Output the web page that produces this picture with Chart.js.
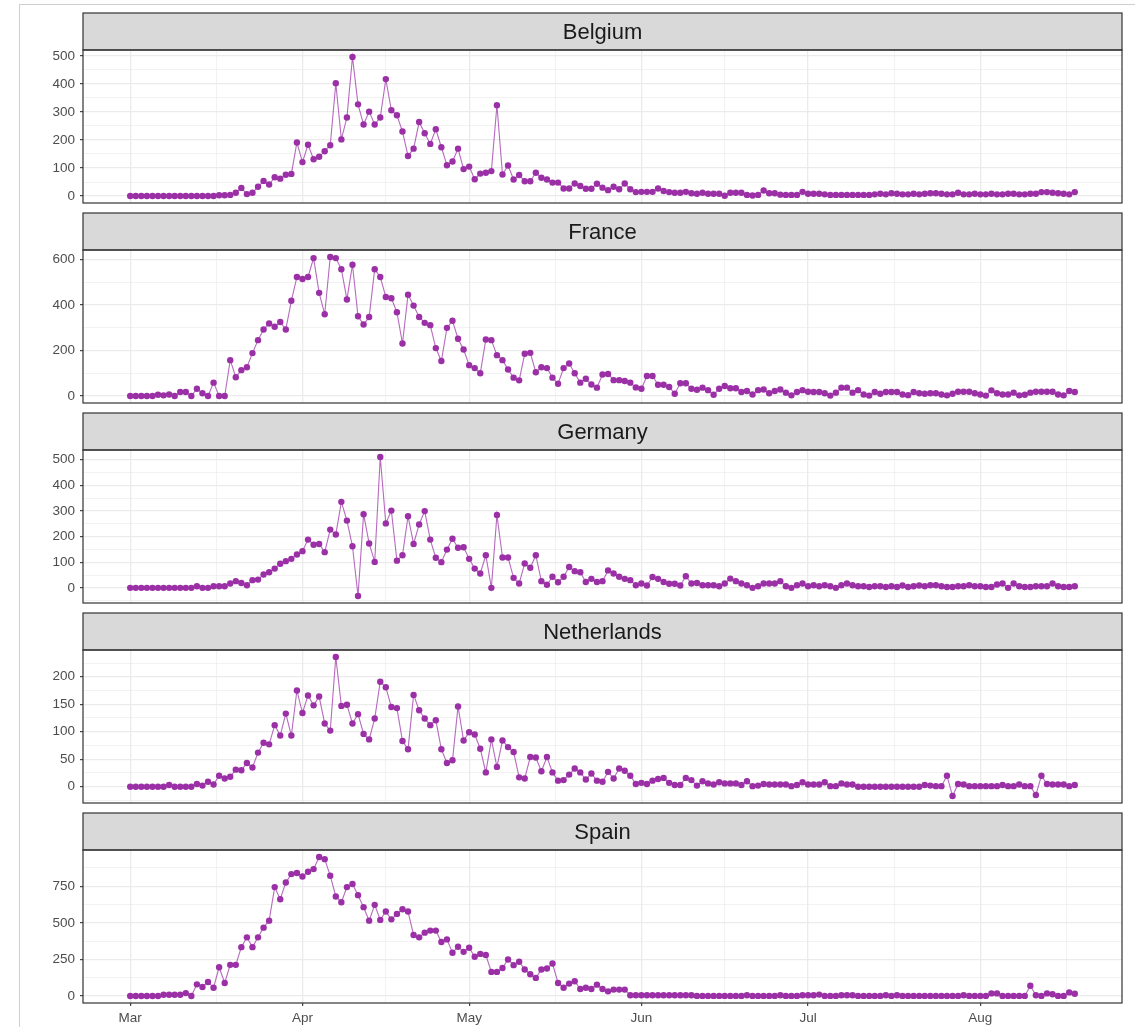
<!DOCTYPE html>
<html>
<head>
<meta charset="utf-8">
<script src="https://cdn.jsdelivr.net/npm/chart.js@4.4.0/dist/chart.umd.min.js"></script>
<style>
  html, body { margin: 0; padding: 0; background: #ffffff; }
  #page { position: relative; width: 1135px; height: 1027px; overflow: hidden; background: #ffffff; }
  #frame { position: absolute; left: 19px; top: 4px; right: 0; bottom: 0;
           border-left: 1px solid #cfcfcf; border-top: 1px solid #cfcfcf; }
  canvas { position: absolute; left: 0; }
</style>
</head>
<body>
<div id="page"><div id="frame"></div></div>
<script>
// Daily new deaths, one value per day starting 1 March 2020 (day index 0)
const startDate = '2020-03-01';

const monthTicks  = [0, 31, 61, 92, 122, 153];
const monthLabels = ['Mar', 'Apr', 'May', 'Jun', 'Jul', 'Aug'];

const countries = ['Belgium', 'France', 'Germany', 'Netherlands', 'Spain'];

const belgium = [
  0, 0, 0, 0, 0, 0, 0, 0, 0, 0,
  0, 0, 0, 0, 0, 0, 3, 3, 4, 12,
  29, 7, 12, 33, 54, 41, 67, 62, 76, 79,
  191, 121, 183, 131, 140, 160, 181, 402, 202, 280,
  496, 327, 255, 301, 255, 280, 417, 306, 288, 230,
  143, 169, 264, 224, 186, 238, 174, 110, 123, 169,
  96, 105, 60, 80, 83, 89, 324, 77, 109, 59,
  75, 53, 53, 83, 65, 59, 48, 48, 27, 27,
  45, 36, 26, 26, 44, 30, 21, 33, 24, 45,
  24, 14, 15, 15, 15, 27, 18, 14, 12, 12,
  15, 10, 8, 12, 8, 8, 8, 1, 12, 12,
  12, 4, 2, 4, 20, 10, 10, 5, 4, 4,
  4, 15, 8, 8, 8, 6, 4, 4, 4, 4,
  4, 4, 4, 4, 6, 8, 6, 10, 8, 6,
  6, 8, 6, 8, 10, 10, 8, 6, 6, 12,
  6, 6, 8, 6, 6, 8, 6, 6, 8, 8,
  6, 6, 8, 8, 14, 14, 12, 10, 8, 6,
  14
];

const france = [
  0, 0, 0, 0, 0, 6, 3, 7, 0, 18,
  18, 0, 32, 12, 0, 59, 0, 0, 158, 83,
  114, 127, 189, 246, 293, 319, 305, 326, 293, 419,
  524, 515, 524, 607, 454, 360, 612, 607, 558, 425,
  578, 351, 315, 348, 558, 524, 436, 430, 369, 231,
  446, 398, 348, 322, 312, 211, 154, 300, 331, 252,
  205, 136, 123, 100, 249, 246, 180, 158, 117, 81,
  69, 186, 190, 105, 127, 123, 81, 54, 123, 143,
  100, 59, 76, 51, 37, 95, 97, 70, 70, 66,
  59, 38, 32, 88, 88, 50, 50, 40, 10, 56,
  56, 32, 28, 37, 26, 6, 32, 44, 34, 34,
  18, 22, 7, 26, 29, 12, 22, 29, 15, 3,
  18, 26, 19, 18, 18, 12, 2, 15, 37, 37,
  15, 26, 7, 2, 18, 10, 18, 18, 18, 7,
  4, 18, 12, 10, 12, 12, 7, 3, 10, 19,
  19, 19, 12, 7, 2, 25, 12, 7, 7, 15,
  3, 6, 15, 19, 19, 19, 19, 7, 3, 22,
  18
];

const germany = [
  0, 0, 0, 0, 0, 0, 0, 0, 0, 0,
  0, 0, 6, 0, 0, 6, 6, 6, 17, 26,
  19, 10, 30, 32, 52, 61, 75, 94, 104, 113,
  130, 143, 188, 168, 171, 139, 227, 208, 335, 262,
  162, -32, 287, 173, 101, 510, 251, 301, 106, 127,
  279, 171, 247, 299, 188, 117, 100, 149, 191, 156,
  158, 113, 75, 56, 127, 0, 284, 118, 118, 39,
  17, 95, 78, 127, 26, 12, 43, 22, 43, 81,
  65, 61, 23, 35, 23, 26, 68, 56, 43, 35,
  30, 10, 17, 9, 42, 35, 23, 16, 16, 9,
  45, 17, 19, 10, 10, 10, 6, 17, 36, 26,
  17, 10, 0, 6, 17, 17, 17, 26, 6, 0,
  10, 17, 6, 10, 6, 10, 6, 0, 10, 17,
  10, 6, 6, 3, 6, 6, 3, 6, 3, 9,
  3, 6, 9, 6, 10, 10, 6, 3, 3, 6,
  6, 10, 6, 6, 3, 3, 13, 17, 0, 17,
  6, 3, 3, 6, 6, 6, 17, 6, 3, 3,
  6
];

const netherlands = [
  0, 0, 0, 0, 0, 0, 0, 3, 0, 0,
  0, 0, 5, 2, 9, 4, 20, 15, 18, 31,
  30, 43, 35, 62, 80, 77, 112, 93, 133, 93,
  175, 134, 166, 148, 164, 115, 102, 236, 147, 149,
  115, 132, 96, 86, 124, 191, 181, 145, 143, 83,
  68, 167, 139, 124, 112, 121, 68, 43, 48, 146,
  84, 99, 95, 69, 26, 86, 36, 84, 72, 63,
  17, 15, 54, 53, 28, 54, 26, 11, 12, 22,
  33, 26, 13, 24, 11, 9, 27, 15, 33, 29,
  20, 5, 7, 5, 11, 14, 16, 7, 3, 3,
  16, 12, 2, 10, 6, 4, 8, 6, 6, 6,
  3, 10, 1, 2, 5, 4, 4, 4, 4, 1,
  3, 8, 4, 4, 4, 8, 1, 1, 6, 4,
  4, 0, 0, 0, 0, 0, 0, 0, 0, 0,
  0, 0, 0, 3, 2, 1, 1, 20, -17, 5,
  4, 1, 1, 1, 1, 1, 1, 3, 1, 1,
  4, 1, 1, -15, 20, 5, 4, 4, 4, 1,
  3
];

const spain = [
  0, 0, 0, 0, 0, 0, 9, 9, 9, 9,
  20, 0, 80, 62, 96, 57, 197, 89, 213, 213,
  334, 401, 334, 401, 467, 515, 744, 661, 776, 833,
  840, 817, 849, 867, 950, 935, 822, 680, 641, 744,
  765, 689, 607, 515, 623, 520, 577, 524, 561, 593,
  577, 417, 401, 433, 447, 447, 369, 387, 296, 337,
  302, 330, 268, 288, 280, 165, 165, 192, 250, 211,
  234, 181, 149, 124, 181, 188, 222, 89, 57, 85,
  101, 48, 57, 48, 78, 48, 32, 44, 44, 44,
  5, 5, 5, 5, 5, 5, 5, 5, 5, 5,
  5, 5, 1, 1, 1, 1, 1, 1, 1, 1,
  1, 5, 1, 1, 1, 1, 1, 5, 1, 1,
  1, 5, 5, 5, 10, 1, 1, 1, 5, 5,
  5, 1, 1, 1, 1, 1, 5, 1, 5, 1,
  1, 1, 1, 1, 1, 1, 1, 1, 1, 1,
  5, 1, 1, 1, 1, 18, 18, 1, 1, 1,
  1, 1, 70, 5, 1, 18, 12, 1, 1, 25,
  16
];

// y-axis tick labels per panel
const belgiumTicks     = [0, 100, 200, 300, 400, 500];
const franceTicks      = [0, 200, 400, 600];
const germanyTicks     = [0, 100, 200, 300, 400, 500];
const netherlandsTicks = [0, 50, 100, 150, 200];
const spainTicks       = [0, 250, 500, 750];

const seriesList = [belgium, france, germany, netherlands, spain];
const tickList   = [belgiumTicks, franceTicks, germanyTicks, netherlandsTicks, spainTicks];

// ---- styling ----
const FONT = '"Liberation Sans", Arial, Helvetica, sans-serif';
const POINT_COLOR = '#9b30a6';
const LINE_COLOR = 'rgba(155, 48, 166, 0.72)';
const GRID_COLOR = '#ebebeb';
const FRAME_COLOR = '#333333';
const STRIP_H = 37;
const PANEL_PITCH = 200;
const AREA_TOP = 50;      // top of plotting area inside each canvas
const AREA_BOTTOM = 203;  // bottom of plotting area inside each canvas
const AREA_LEFT = 83;
const AREA_RIGHT = 1122;
const PAGE_W = 1135;
const PAGE_H = 1027;
const Y_AXIS_W = 60;
const X_AXIS_H = 24;

// ggplot-style minor breaks: midpoints between majors, one step beyond each end
function minorBreaks(majors, lo, hi) {
  const step = majors[1] - majors[0];
  const ext = [majors[0] - step, ...majors, majors[majors.length - 1] + step];
  const out = [];
  for (let i = 0; i < ext.length - 1; i++) {
    const m = (ext[i] + ext[i + 1]) / 2;
    if (m >= lo && m <= hi) out.push(m);
  }
  return out;
}

const xMin = -0.05 * (belgium.length - 1);
const xMax = (belgium.length - 1) * 1.05;
const monthExt = [-29, ...monthTicks, 184];
const xMinor = [];
for (let i = 0; i < monthExt.length - 1; i++) {
  const m = (monthExt[i] + monthExt[i + 1]) / 2;
  if (m >= xMin && m <= xMax) xMinor.push(m);
}
const xAllTicks = [...monthTicks, ...xMinor].sort((a, b) => a - b);

const facetPlugin = {
  id: 'facet',
  afterDraw(chart, args, opts) {
    const { ctx, chartArea: a } = chart;
    ctx.save();
    // strip header
    ctx.fillStyle = '#d9d9d9';
    ctx.fillRect(a.left, a.top - STRIP_H, a.right - a.left, STRIP_H);
    ctx.strokeStyle = FRAME_COLOR;
    ctx.lineWidth = 1.2;
    ctx.strokeRect(a.left, a.top - STRIP_H, a.right - a.left, STRIP_H);
    // panel border
    ctx.strokeRect(a.left, a.top, a.right - a.left, a.bottom - a.top);
    // strip text
    ctx.fillStyle = '#1a1a1a';
    ctx.font = '22px ' + FONT;
    ctx.textAlign = 'center';
    ctx.textBaseline = 'middle';
    ctx.fillText(opts.title, (a.left + a.right) / 2, a.top - STRIP_H / 2 + 1);
    ctx.restore();
  }
};

const page = document.getElementById('page');

countries.forEach((name, i) => {
  const values = seriesList[i];
  const majors = tickList[i];
  const isBottom = i === countries.length - 1;

  const dMin = Math.min(...values), dMax = Math.max(...values);
  const yLo = dMin - 0.05 * (dMax - dMin);
  const yHi = dMax + 0.05 * (dMax - dMin);
  const yAll = [...majors, ...minorBreaks(majors, yLo, yHi)].sort((a, b) => a - b);

  const canvasTop = PANEL_PITCH * i;
  const canvasH = isBottom ? PAGE_H - canvasTop : 232;
  const xAxisH = isBottom ? X_AXIS_H : 0;

  const canvas = document.createElement('canvas');
  canvas.width = PAGE_W;
  canvas.height = canvasH;
  canvas.style.top = canvasTop + 'px';
  canvas.style.width = PAGE_W + 'px';
  canvas.style.height = canvasH + 'px';
  page.appendChild(canvas);

  new Chart(canvas, {
    type: 'line',
    data: {
      datasets: [{
        label: name,
        data: values.map((v, d) => ({ x: d, y: v })),
        borderColor: LINE_COLOR,
        borderWidth: 1.1,
        pointRadius: 3.2,
        pointBorderWidth: 0,
        pointBackgroundColor: POINT_COLOR,
        pointBorderColor: POINT_COLOR,
        tension: 0,
        fill: false
      }]
    },
    options: {
      responsive: false,
      animation: false,
      events: [],
      devicePixelRatio: 1,
      layout: {
        padding: {
          left: AREA_LEFT - Y_AXIS_W,
          right: PAGE_W - AREA_RIGHT,
          top: AREA_TOP,
          bottom: canvasH - AREA_BOTTOM - xAxisH
        }
      },
      plugins: {
        legend: { display: false },
        tooltip: { enabled: false },
        facet: { title: name }
      },
      scales: {
        x: {
          type: 'linear',
          min: xMin,
          max: xMax,
          bounds: 'data',
          afterBuildTicks: s => { s.ticks = xAllTicks.map(v => ({ value: v })); },
          afterFit: s => { s.height = xAxisH; },
          border: { display: false },
          grid: {
            color: GRID_COLOR,
            lineWidth: c => (monthTicks.includes(c.tick.value) ? 1.3 : 0.65),
            drawTicks: isBottom,
            tickLength: 3,
            tickWidth: 1.1,
            tickColor: c => (monthTicks.includes(c.tick.value) ? FRAME_COLOR : 'rgba(0,0,0,0)')
          },
          ticks: {
            display: isBottom,
            autoSkip: false,
            maxRotation: 0,
            padding: 4,
            color: '#4d4d4d',
            font: { family: FONT, size: 13.5 },
            callback: v => {
              const k = monthTicks.indexOf(v);
              return k >= 0 ? monthLabels[k] : '';
            }
          }
        },
        y: {
          type: 'linear',
          min: yLo,
          max: yHi,
          bounds: 'data',
          afterBuildTicks: s => { s.ticks = yAll.map(v => ({ value: v })); },
          afterFit: s => { s.width = Y_AXIS_W; },
          border: { display: false },
          grid: {
            color: GRID_COLOR,
            lineWidth: c => (majors.includes(c.tick.value) ? 1.3 : 0.65),
            drawTicks: true,
            tickLength: 3,
            tickWidth: 1.1,
            tickColor: c => (majors.includes(c.tick.value) ? FRAME_COLOR : 'rgba(0,0,0,0)')
          },
          ticks: {
            autoSkip: false,
            padding: 5,
            color: '#4d4d4d',
            font: { family: FONT, size: 13.5 },
            callback: v => (majors.includes(v) ? String(v) : '')
          }
        }
      }
    },
    plugins: [facetPlugin]
  });
});
</script>
</body>
</html>
